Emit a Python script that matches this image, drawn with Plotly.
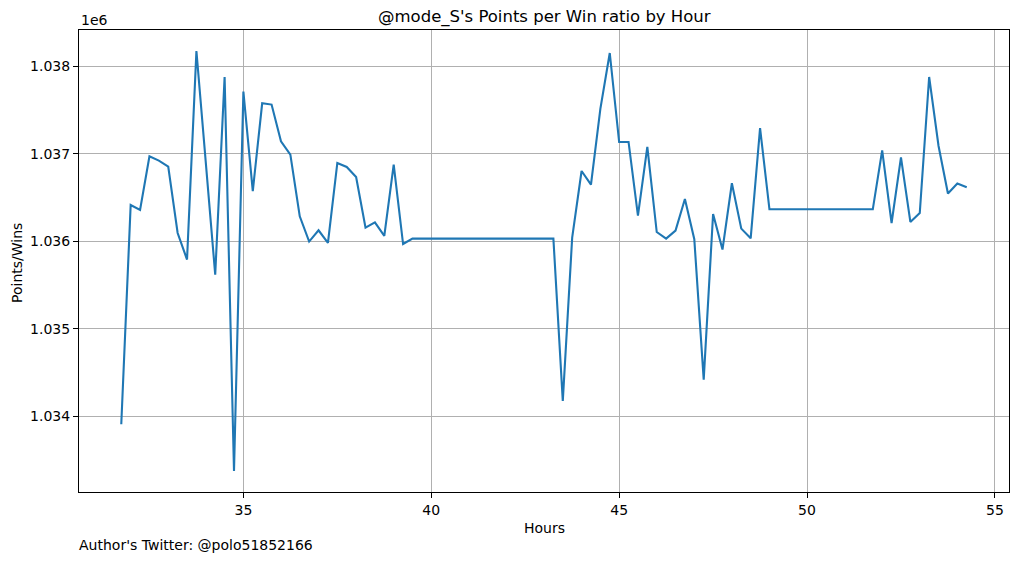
import plotly.graph_objects as go

hours = [31.75, 32.0, 32.25, 32.5, 32.75, 33.0, 33.25, 33.5, 33.75, 34.0,
         34.25, 34.5, 34.75, 35.0, 35.25, 35.5, 35.75, 36.0, 36.25, 36.5,
         36.75, 37.0, 37.25, 37.5, 37.75, 38.0, 38.25, 38.5, 38.75, 39.0,
         39.25, 39.5, 39.75, 40.0, 40.25, 40.5, 40.75, 41.0, 41.25, 41.5,
         41.75, 42.0, 42.25, 42.5, 42.75, 43.0, 43.25, 43.5, 43.75, 44.0,
         44.25, 44.5, 44.75, 45.0, 45.25, 45.5, 45.75, 46.0, 46.25, 46.5,
         46.75, 47.0, 47.25, 47.5, 47.75, 48.0, 48.25, 48.5, 48.75, 49.0,
         49.25, 49.5, 49.75, 50.0, 50.25, 50.5, 50.75, 51.0, 51.25, 51.5,
         51.75, 52.0, 52.25, 52.5, 52.75, 53.0, 53.25, 53.5, 53.75, 54.0,
         54.25]

points_per_win = [1033906, 1036415, 1036358, 1036972, 1036923, 1036855, 1036095, 1035791, 1038177, 1036900,
                  1035619, 1037880, 1033372, 1037713, 1036575, 1037579, 1037564, 1037144, 1036992, 1036286,
                  1035997, 1036126, 1035981, 1036896, 1036850, 1036736, 1036157, 1036217, 1036061, 1036877,
                  1035969, 1036031, 1036031, 1036031, 1036031, 1036031, 1036031, 1036031, 1036031, 1036031,
                  1036031, 1036031, 1036031, 1036031, 1036031, 1036031, 1036031, 1034173, 1036042, 1036804,
                  1036649, 1037514, 1038154, 1037136, 1037136, 1036294, 1037079, 1036106, 1036031, 1036122,
                  1036484, 1036023, 1034418, 1036312, 1035905, 1036664, 1036145, 1036034, 1037296, 1036366,
                  1036366, 1036366, 1036366, 1036366, 1036366, 1036366, 1036366, 1036366, 1036366, 1036366,
                  1036366, 1037041, 1036209, 1036961, 1036221, 1036324, 1037880, 1037090, 1036546, 1036660,
                  1036618]

x_ticks = [35, 40, 45, 50, 55]
y_tick_vals = [1034000, 1035000, 1036000, 1037000, 1038000]
y_tick_text = ["1.034", "1.035", "1.036", "1.037", "1.038"]

title_text = "@mode_S's Points per Win ratio by Hour"
x_title = "Hours"
y_title = "Points/Wins"
offset_text = "1e6"
author_text = "Author's Twitter: @polo51852166"

FONT = "DejaVu Sans"

fig = go.Figure()
fig.add_trace(go.Scatter(
    x=hours, y=points_per_win, mode="lines",
    line=dict(color="#1f77b4", width=2.1),
    showlegend=False, hoverinfo="x+y",
))

# matplotlib-like 5% margins
xmin, xmax = min(hours), max(hours)
ymin, ymax = min(points_per_win), max(points_per_win)
xpad = (xmax - xmin) * 0.05
ypad = (ymax - ymin) * 0.05

axis_common = dict(
    showgrid=True, gridcolor="#b0b0b0", gridwidth=1.1,
    showline=True, linecolor="black", linewidth=1.1, mirror=True,
    ticks="outside", ticklen=5, tickwidth=1.1, tickcolor="black",
    tickfont=dict(family=FONT, size=14, color="black"),
    zeroline=False,
)

# the page body adds an 8px margin, so the figure is sized to compensate
fig.update_layout(
    width=1011, height=554, autosize=False,
    margin=dict(l=71, r=10, t=22, b=70, pad=0),
    paper_bgcolor="white", plot_bgcolor="white",
    font=dict(family=FONT, size=14, color="black"),
    xaxis=dict(range=[xmin - xpad, xmax + xpad], tickvals=x_ticks,
               ticktext=[str(t) for t in x_ticks], **axis_common),
    yaxis=dict(range=[ymin - ypad, ymax + ypad], tickvals=y_tick_vals,
               ticktext=y_tick_text, **axis_common),
    annotations=[
        dict(text=title_text, xref="paper", yref="paper", x=0.5, y=1,
             yshift=13, xanchor="center", yanchor="middle", showarrow=False,
             borderpad=0,
             font=dict(family=FONT, size=16.5, color="black")),
        dict(text=offset_text, xref="paper", yref="paper", x=0, y=1,
             yshift=10, xanchor="left", yanchor="middle", showarrow=False,
             font=dict(family=FONT, size=14, color="black")),
        dict(text=x_title, xref="paper", yref="paper", x=0.5, y=0,
             yshift=-36, xanchor="center", yanchor="middle", showarrow=False,
             font=dict(family=FONT, size=14, color="black")),
        dict(text=y_title, xref="paper", yref="paper", x=0, y=0.5,
             xshift=-62, yshift=-2, xanchor="center", yanchor="middle", textangle=-90,
             showarrow=False, font=dict(family=FONT, size=14, color="black")),
        dict(text=author_text, xref="paper", yref="paper", x=0, y=0,
             xshift=-2, yshift=-53, xanchor="left", yanchor="middle", showarrow=False,
             font=dict(family=FONT, size=14, color="black")),
    ],
)

fig.write_html("out.html")
